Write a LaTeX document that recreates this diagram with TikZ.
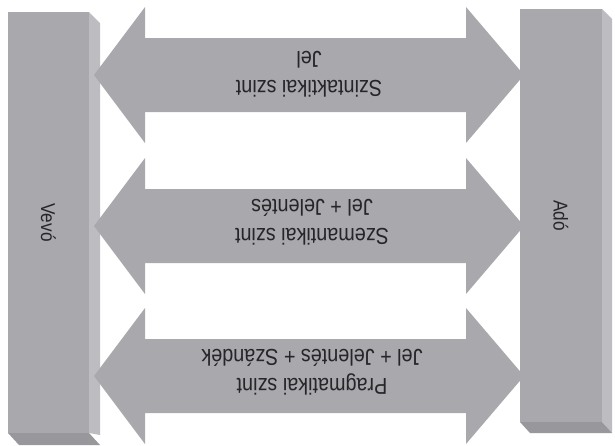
\documentclass[tikz,border=0pt]{standalone}
\usepackage{fontspec}
\setmainfont{Liberation Sans}
\newfontfamily\condfont[FakeStretch=0.86]{Liberation Sans}
\definecolor{barfill}{HTML}{A9A8AD}
\definecolor{sidelight}{HTML}{BDBCC1}
\definecolor{bottomdark}{HTML}{98979C}
\definecolor{txt}{HTML}{262628}
\begin{document}
\begin{tikzpicture}[x=1pt,y=-1pt,
  face/.style={fill=barfill,draw=none},
  barface/.style={face,inner sep=0pt,outer sep=0pt},
  sideface/.style={fill=sidelight,draw=none},
  bottomface/.style={fill=bottomdark,draw=none},
  lbl/.style={font=\condfont\fontsize{23}{29}\selectfont,text=txt,align=center,rotate=180},
  barlbl/.style={font=\condfont\fontsize{20}{22}\selectfont,text=txt,rotate=-90}]
\useasboundingbox[fill=white] (0,0) rectangle (615,445);
% bars
\node[barface,minimum width=81pt,minimum height=421pt] (vevo) at (48.5,222.5) {};
\node[barface,minimum width=82pt,minimum height=413pt] (ado) at (561,215.5) {};
\path[sideface] (vevo.north east) -- ++(11,11) -- ++(0,412) -- (vevo.south east) -- cycle;
\path[bottomface] (vevo.south west) -- (vevo.south east) -- ++(11,12) -- ++(-81,0) -- cycle;
\path[sideface] (ado.north east) -- ++(10,10) -- ++(0,414) -- (ado.south east) -- cycle;
\path[bottomface] (ado.south west) -- (ado.south east) -- ++(10,11) -- ++(-82,0) -- cycle;
% double arrows
\foreach \cy in {75,226,376}{
  \path[face] (94,\cy) -- (145,\cy-68) -- (145,\cy-37) -- (466,\cy-37) -- (466,\cy-68)
    -- (524,\cy) -- (466,\cy+68) -- (466,\cy+37) -- (145,\cy+37) -- (145,\cy+68) -- cycle;
}
% labels
\node[barlbl] (vl) at (vevo.center) {Vevó};
\node[barlbl] (al) at (ado.center) {Adó};
\node[lbl] (t1) at (309,74) {Szintaktikai szint\\Jel};
\node[lbl] (t2) at (312,222) {Szemantikai szint\\Jel + Jelentés};
\node[lbl] (t3) at (312,372) {Pragmatikai szint\\Jel + Jelentés + Szándék};
\end{tikzpicture}
\end{document}
